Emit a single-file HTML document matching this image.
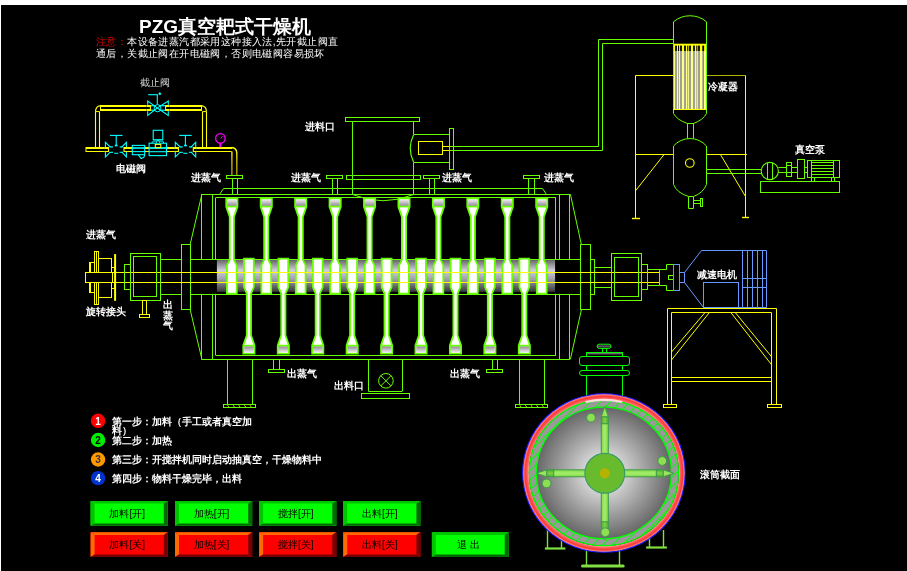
<!DOCTYPE html>
<html><head><meta charset="utf-8"><title>PZG</title>
<style>
html,body{margin:0;padding:0;background:#fff;width:907px;height:571px;overflow:hidden;}
#v{position:absolute;left:0;top:0;width:907px;height:571px;}
text{font-family:"Liberation Sans",sans-serif;}
</style></head>
<body>
<svg id="v" style="will-change:transform" width="907" height="571" viewBox="0 0 907 571">

<defs>
  <linearGradient id="shaft" x1="0" y1="0" x2="0" y2="1">
    <stop offset="0" stop-color="#666666"/>
    <stop offset="0.33" stop-color="#d2cedc"/>
    <stop offset="0.6" stop-color="#a29eae"/>
    <stop offset="1" stop-color="#383838"/>
  </linearGradient>
  <linearGradient id="pipeV" x1="0" y1="150" x2="0" y2="175" gradientUnits="userSpaceOnUse">
    <stop offset="0" stop-color="#ffff00"/>
    <stop offset="0.5" stop-color="#c8b400"/>
    <stop offset="1" stop-color="#a89400"/>
  </linearGradient>
  <linearGradient id="knob" x1="0" y1="0" x2="0" y2="1">
    <stop offset="0" stop-color="#000"/>
    <stop offset="0.5" stop-color="#6a5a70"/>
    <stop offset="1" stop-color="#000"/>
  </linearGradient>
  <linearGradient id="cap" x1="0" y1="0" x2="0" y2="1">
    <stop offset="0" stop-color="#a8a0b0"/>
    <stop offset="0.7" stop-color="#000"/>
    <stop offset="1" stop-color="#000"/>
  </linearGradient>
  <linearGradient id="headT" x1="0" y1="0" x2="0" y2="1">
    <stop offset="0" stop-color="#f2eef4"/>
    <stop offset="1" stop-color="#928a98"/>
  </linearGradient>
  <linearGradient id="headB" x1="0" y1="0" x2="0" y2="1">
    <stop offset="0" stop-color="#928a98"/>
    <stop offset="1" stop-color="#f2eef4"/>
  </linearGradient>
  <radialGradient id="disk" cx="603.9" cy="473.0" r="68" gradientUnits="userSpaceOnUse">
    <stop offset="0" stop-color="#ffffff"/>
    <stop offset="1" stop-color="#666666"/>
  </radialGradient>
  <radialGradient id="ring" cx="603.9" cy="473.0" r="81.2" gradientUnits="userSpaceOnUse">
    <stop offset="0" stop-color="#ffa8a8"/>
    <stop offset="0.922" stop-color="#ffa8a8"/>
    <stop offset="0.945" stop-color="#ff5a5a"/>
    <stop offset="0.97" stop-color="#ff3838"/>
    <stop offset="0.988" stop-color="#ff7a7a"/>
    <stop offset="1" stop-color="#ffb0b0"/>
  </radialGradient>
  <pattern id="hatch" x="0" y="0" width="7" height="7" patternUnits="userSpaceOnUse" patternTransform="rotate(45)">
    <rect x="0" y="0" width="1" height="7" fill="#00ff00"/>
  </pattern>
  <linearGradient id="ringHi" x1="0" y1="0" x2="0" y2="1">
    <stop offset="0" stop-color="#ffffff" stop-opacity="0.0"/>
    <stop offset="1" stop-color="#ffffff" stop-opacity="0"/>
  </linearGradient>
  <pattern id="tubes" x="673.5" y="0" width="3.7" height="10" patternUnits="userSpaceOnUse">
    <rect x="0" y="0" width="3.7" height="10" fill="#ffff99"/>
    <rect x="1.9" y="0" width="1.6" height="10" fill="#8c8c8c"/>
  </pattern>
  <linearGradient id="armG" x1="0" y1="0" x2="1" y2="0">
    <stop offset="0" stop-color="#7fd94a"/>
    <stop offset="0.5" stop-color="#a6ee6a"/>
    <stop offset="1" stop-color="#7fd94a"/>
  </linearGradient>
  <linearGradient id="armD" x1="0" y1="0" x2="1" y2="0">
    <stop offset="0" stop-color="#4fae2e"/>
    <stop offset="0.5" stop-color="#7fd04a"/>
    <stop offset="1" stop-color="#4fae2e"/>
  </linearGradient>
  <linearGradient id="armGh" x1="0" y1="0" x2="0" y2="1">
    <stop offset="0" stop-color="#7fd94a"/>
    <stop offset="0.5" stop-color="#a6ee6a"/>
    <stop offset="1" stop-color="#7fd94a"/>
  </linearGradient>
</defs>

<rect x="1" y="5" width="906" height="566" fill="#000"/>
<text x="139.00" y="32.60" font-size="19" fill="#fff" font-weight="bold" font-family="&quot;Liberation Sans&quot;, sans-serif" text-anchor="start" >PZG真空耙式干燥机</text>
<text x="96" y="45" letter-spacing="0.4" font-size="10" font-family="&quot;Liberation Serif&quot;, serif" fill="#ffffff"><tspan fill="#dd0000">注意：</tspan>本设备进蒸汽都采用这种接入法,先开截止阀直</text>
<text x="96" y="57" letter-spacing="0.4" font-size="10" font-family="&quot;Liberation Serif&quot;, serif" fill="#ffffff">通后，关截止阀在开电磁阀，否则电磁阀容易损坏</text>
<text x="140.00" y="86.00" font-size="10" fill="#d8d8d8" font-weight="normal" font-family="&quot;Liberation Serif&quot;, sans-serif" text-anchor="start" >截止阀</text>
<line x1="95.50" y1="111.50" x2="95.50" y2="148.00" stroke="#ffff00" stroke-width="1.1" />
<line x1="99.50" y1="111.50" x2="99.50" y2="148.00" stroke="#ffff00" stroke-width="1.1" />
<line x1="202.50" y1="111.50" x2="202.50" y2="148.00" stroke="#ffff00" stroke-width="1.1" />
<line x1="206.50" y1="111.50" x2="206.50" y2="148.00" stroke="#ffff00" stroke-width="1.1" />
<line x1="95.50" y1="111.60" x2="99.50" y2="111.60" stroke="#ffff00" stroke-width="1" />
<line x1="202.50" y1="111.60" x2="206.50" y2="111.60" stroke="#ffff00" stroke-width="1" />
<path d="M95.5,111.5 Q95.7,106.2 100.5,105.6" stroke="#ffff00" stroke-width="1.2" fill="none" />
<path d="M206.5,111.5 Q206.3,106.2 201.5,105.6" stroke="#ffff00" stroke-width="1.2" fill="none" />
<line x1="100.50" y1="106.00" x2="201.50" y2="106.00" stroke="#ffff00" stroke-width="2" />
<line x1="100.50" y1="110.00" x2="201.50" y2="110.00" stroke="#ffff00" stroke-width="2" />
<line x1="100.50" y1="105.00" x2="100.50" y2="111.00" stroke="#ffff00" stroke-width="1" />
<line x1="201.50" y1="105.00" x2="201.50" y2="111.00" stroke="#ffff00" stroke-width="1" />
<line x1="86.00" y1="148.00" x2="232.00" y2="148.00" stroke="#ffff00" stroke-width="2" />
<line x1="86.00" y1="151.50" x2="231.50" y2="151.50" stroke="#ffff00" stroke-width="1.1" />
<line x1="86.00" y1="147.00" x2="86.00" y2="152.00" stroke="#ffff00" stroke-width="1" />
<path d="M231.5,147.5 Q236.6,147.8 236.8,153" stroke="#ffff00" stroke-width="1.4" fill="none" />
<line x1="236.8" y1="153" x2="236.8" y2="175" stroke="url(#pipeV)" stroke-width="1.4"/>
<line x1="231.9" y1="151.5" x2="231.9" y2="175" stroke="url(#pipeV)" stroke-width="1.4"/>
<circle cx="220.40" cy="138.40" r="4.70" stroke="#ff00ff" stroke-width="1.3" fill="none" />
<line x1="220.40" y1="138.40" x2="222.80" y2="136.40" stroke="#ff00ff" stroke-width="1" />
<rect x="219.40" y="143.00" width="2.00" height="4.20" fill="#ff00ff"/>
<rect x="146.50" y="104.60" width="23.00" height="6.80" fill="#000"/>
<polygon points="147.70,101.00 147.70,115.40 157.30,107.90" stroke="#00ffff" stroke-width="1.1" fill="none" />
<polygon points="168.30,101.00 168.30,115.40 157.30,107.90" stroke="#00ffff" stroke-width="1.1" fill="none" />
<rect x="146.80" y="104.80" width="3.20" height="6.40" fill="#000"/>
<rect x="165.90" y="104.80" width="3.30" height="6.40" fill="#000"/>
<line x1="146.50" y1="106.00" x2="150.40" y2="106.00" stroke="#ffff00" stroke-width="2" />
<line x1="146.50" y1="110.00" x2="150.40" y2="110.00" stroke="#ffff00" stroke-width="2" />
<line x1="150.40" y1="105.00" x2="150.40" y2="111.00" stroke="#ffff00" stroke-width="1.1" />
<line x1="165.60" y1="106.00" x2="169.50" y2="106.00" stroke="#ffff00" stroke-width="2" />
<line x1="165.60" y1="110.00" x2="169.50" y2="110.00" stroke="#ffff00" stroke-width="2" />
<line x1="165.60" y1="105.00" x2="165.60" y2="111.00" stroke="#ffff00" stroke-width="1.1" />
<line x1="150.90" y1="105.70" x2="155.20" y2="105.70" stroke="#00ffff" stroke-width="1.2" />
<line x1="150.90" y1="110.20" x2="155.20" y2="110.20" stroke="#00ffff" stroke-width="1.2" />
<line x1="159.60" y1="105.70" x2="165.10" y2="105.70" stroke="#00ffff" stroke-width="1.2" />
<line x1="159.60" y1="110.20" x2="165.10" y2="110.20" stroke="#00ffff" stroke-width="1.2" />
<ellipse cx="157.5" cy="108.2" rx="3.4" ry="3.6" fill="none" stroke="#00ffff" stroke-width="1"/>
<line x1="157.30" y1="94.70" x2="157.30" y2="104.30" stroke="#00ffff" stroke-width="1.1" />
<line x1="148.20" y1="94.70" x2="157.80" y2="94.70" stroke="#00ffff" stroke-width="1.1" />
<circle cx="159.80" cy="93.70" r="1.00" stroke="#00ffff" stroke-width="0.8" fill="#00ffff" />
<rect x="104.90" y="146.60" width="22.00" height="6.00" fill="#000"/>
<polygon points="105.40,142.40 105.40,156.90 112.80,149.60" stroke="#00ffff" stroke-width="1.1" fill="none" />
<polygon points="126.40,142.40 126.40,156.90 119.30,149.60" stroke="#00ffff" stroke-width="1.1" fill="none" />
<rect x="104.60" y="147.40" width="9.00" height="4.60" fill="#000"/>
<rect x="118.40" y="147.40" width="8.80" height="4.60" fill="#000"/>
<line x1="104.40" y1="148.00" x2="108.50" y2="148.00" stroke="#ffff00" stroke-width="2" />
<line x1="104.40" y1="151.50" x2="108.50" y2="151.50" stroke="#ffff00" stroke-width="1.1" />
<line x1="108.50" y1="147.00" x2="108.50" y2="152.00" stroke="#ffff00" stroke-width="1.1" />
<line x1="124.00" y1="148.00" x2="127.40" y2="148.00" stroke="#ffff00" stroke-width="2" />
<line x1="124.00" y1="151.50" x2="127.40" y2="151.50" stroke="#ffff00" stroke-width="1.1" />
<line x1="124.00" y1="147.00" x2="124.00" y2="152.00" stroke="#ffff00" stroke-width="1.1" />
<line x1="109.60" y1="146.90" x2="113.00" y2="146.90" stroke="#00ffff" stroke-width="1.1" />
<line x1="109.60" y1="152.30" x2="113.00" y2="152.30" stroke="#00ffff" stroke-width="1.1" />
<line x1="119.60" y1="146.90" x2="123.00" y2="146.90" stroke="#00ffff" stroke-width="1.1" />
<line x1="119.60" y1="152.30" x2="123.00" y2="152.30" stroke="#00ffff" stroke-width="1.1" />
<line x1="116.20" y1="135.40" x2="116.20" y2="145.50" stroke="#00ffff" stroke-width="1.1" />
<line x1="110.00" y1="135.40" x2="122.50" y2="135.40" stroke="#00ffff" stroke-width="1.1" />
<ellipse cx="116.2" cy="145.6" rx="1.6" ry="1.0" fill="#00ffff"/>
<line x1="114.20" y1="153.30" x2="118.20" y2="153.30" stroke="#00ffff" stroke-width="1.1" />
<rect x="174.80" y="146.60" width="21.40" height="6.00" fill="#000"/>
<polygon points="175.30,142.40 175.30,156.90 182.70,149.60" stroke="#00ffff" stroke-width="1.1" fill="none" />
<polygon points="195.70,142.40 195.70,156.90 188.60,149.60" stroke="#00ffff" stroke-width="1.1" fill="none" />
<rect x="174.50" y="147.40" width="9.00" height="4.60" fill="#000"/>
<rect x="187.70" y="147.40" width="8.80" height="4.60" fill="#000"/>
<line x1="174.30" y1="148.00" x2="178.40" y2="148.00" stroke="#ffff00" stroke-width="2" />
<line x1="174.30" y1="151.50" x2="178.40" y2="151.50" stroke="#ffff00" stroke-width="1.1" />
<line x1="178.40" y1="147.00" x2="178.40" y2="152.00" stroke="#ffff00" stroke-width="1.1" />
<line x1="193.30" y1="148.00" x2="196.70" y2="148.00" stroke="#ffff00" stroke-width="2" />
<line x1="193.30" y1="151.50" x2="196.70" y2="151.50" stroke="#ffff00" stroke-width="1.1" />
<line x1="193.30" y1="147.00" x2="193.30" y2="152.00" stroke="#ffff00" stroke-width="1.1" />
<line x1="179.50" y1="146.90" x2="182.90" y2="146.90" stroke="#00ffff" stroke-width="1.1" />
<line x1="179.50" y1="152.30" x2="182.90" y2="152.30" stroke="#00ffff" stroke-width="1.1" />
<line x1="188.90" y1="146.90" x2="192.30" y2="146.90" stroke="#00ffff" stroke-width="1.1" />
<line x1="188.90" y1="152.30" x2="192.30" y2="152.30" stroke="#00ffff" stroke-width="1.1" />
<line x1="185.40" y1="135.40" x2="185.40" y2="145.50" stroke="#00ffff" stroke-width="1.1" />
<line x1="179.20" y1="135.40" x2="191.70" y2="135.40" stroke="#00ffff" stroke-width="1.1" />
<ellipse cx="185.4" cy="145.6" rx="1.6" ry="1.0" fill="#00ffff"/>
<line x1="183.40" y1="153.30" x2="187.40" y2="153.30" stroke="#00ffff" stroke-width="1.1" />
<rect x="132.30" y="145.40" width="12.40" height="9.30" stroke="#00ffff" stroke-width="1.1" fill="#000" />
<line x1="132.30" y1="148.00" x2="144.70" y2="148.00" stroke="#00ffff" stroke-width="1.6" />
<line x1="132.30" y1="151.60" x2="144.70" y2="151.60" stroke="#00ffff" stroke-width="1.1" />
<path d="M138.3,154.8 L141.2,158.6 L144,157.2 L144.6,154.8" stroke="#00ffff" stroke-width="1.1" fill="none" />
<rect x="149.10" y="143.20" width="17.40" height="12.40" stroke="#00ffff" stroke-width="1.1" fill="#000" />
<line x1="149.10" y1="148.00" x2="166.50" y2="148.00" stroke="#00ffff" stroke-width="1.8" />
<line x1="149.10" y1="151.70" x2="166.50" y2="151.70" stroke="#00ffff" stroke-width="1.1" />
<rect x="153.20" y="130.30" width="9.60" height="9.40" stroke="#00ffff" stroke-width="1.1" fill="none" />
<path d="M151.6,143.2 L153.4,141 L162.6,141 L163.9,143.2" stroke="#00ffff" stroke-width="1" fill="none" />
<rect x="155.30" y="144.40" width="5.50" height="3.20" stroke="#ffff00" stroke-width="1.1" fill="none" />
<ellipse cx="158" cy="142.2" rx="1.4" ry="1.8" fill="#000" stroke="#00ffff" stroke-width="1"/>
<text x="116.00" y="172.00" font-size="10" fill="#fff" font-weight="bold" font-family="&quot;Liberation Sans&quot;, sans-serif" text-anchor="start" >电磁阀</text>
<rect x="226.50" y="175.50" width="16.00" height="3.00" stroke="#66ff00" stroke-width="1" fill="none" />
<line x1="232.50" y1="178.00" x2="232.50" y2="194.20" stroke="#66ff00" stroke-width="1" />
<line x1="237.50" y1="178.00" x2="237.50" y2="194.20" stroke="#66ff00" stroke-width="1" />
<text x="191.20" y="180.60" font-size="10" fill="#fff" font-weight="bold" font-family="&quot;Liberation Sans&quot;, sans-serif" text-anchor="start" >进蒸气</text>
<rect x="326.50" y="175.50" width="16.00" height="3.00" stroke="#66ff00" stroke-width="1" fill="none" />
<line x1="332.50" y1="178.00" x2="332.50" y2="194.20" stroke="#66ff00" stroke-width="1" />
<line x1="337.50" y1="178.00" x2="337.50" y2="194.20" stroke="#66ff00" stroke-width="1" />
<text x="291.30" y="180.60" font-size="10" fill="#fff" font-weight="bold" font-family="&quot;Liberation Sans&quot;, sans-serif" text-anchor="start" >进蒸气</text>
<rect x="423.50" y="175.50" width="16.00" height="3.00" stroke="#66ff00" stroke-width="1" fill="none" />
<line x1="429.50" y1="178.00" x2="429.50" y2="194.20" stroke="#66ff00" stroke-width="1" />
<line x1="434.50" y1="178.00" x2="434.50" y2="194.20" stroke="#66ff00" stroke-width="1" />
<text x="442.40" y="180.60" font-size="10" fill="#fff" font-weight="bold" font-family="&quot;Liberation Sans&quot;, sans-serif" text-anchor="start" >进蒸气</text>
<rect x="523.50" y="175.50" width="16.00" height="3.00" stroke="#66ff00" stroke-width="1" fill="none" />
<line x1="528.50" y1="178.00" x2="528.50" y2="194.20" stroke="#66ff00" stroke-width="1" />
<line x1="534.50" y1="178.00" x2="534.50" y2="194.20" stroke="#66ff00" stroke-width="1" />
<text x="544.20" y="180.60" font-size="10" fill="#fff" font-weight="bold" font-family="&quot;Liberation Sans&quot;, sans-serif" text-anchor="start" >进蒸气</text>
<path d="M219.5,194.5 L223.5,188.5 L542.5,188.5 L546.5,194.5" stroke="#66ff00" stroke-width="1" fill="none" />
<line x1="201.40" y1="194.50" x2="569.90" y2="194.50" stroke="#66ff00" stroke-width="1" />
<line x1="201.40" y1="359.50" x2="569.90" y2="359.50" stroke="#66ff00" stroke-width="1" />
<line x1="190.10" y1="244.60" x2="201.90" y2="194.20" stroke="#66ff00" stroke-width="1" />
<line x1="190.10" y1="309.40" x2="201.90" y2="359.30" stroke="#66ff00" stroke-width="1" />
<line x1="570.40" y1="194.20" x2="581.40" y2="244.70" stroke="#66ff00" stroke-width="1" />
<line x1="570.40" y1="359.30" x2="581.40" y2="309.60" stroke="#66ff00" stroke-width="1" />
<rect x="181.50" y="244.50" width="9.00" height="65.00" stroke="#66ff00" stroke-width="1" fill="none" />
<rect x="580.50" y="244.50" width="10.00" height="65.00" stroke="#66ff00" stroke-width="1" fill="none" />
<line x1="201.50" y1="194.20" x2="201.50" y2="259.40" stroke="#66ff00" stroke-width="1" />
<line x1="201.50" y1="293.80" x2="201.50" y2="359.30" stroke="#66ff00" stroke-width="1" />
<line x1="212.50" y1="194.20" x2="212.50" y2="259.40" stroke="#66ff00" stroke-width="1" />
<line x1="212.50" y1="293.80" x2="212.50" y2="359.30" stroke="#66ff00" stroke-width="1" />
<line x1="559.50" y1="194.20" x2="559.50" y2="259.40" stroke="#66ff00" stroke-width="1" />
<line x1="559.50" y1="293.80" x2="559.50" y2="359.30" stroke="#66ff00" stroke-width="1" />
<line x1="569.50" y1="194.20" x2="569.50" y2="259.40" stroke="#66ff00" stroke-width="1" />
<line x1="569.50" y1="293.80" x2="569.50" y2="359.30" stroke="#66ff00" stroke-width="1" />
<line x1="215.70" y1="197.50" x2="555.90" y2="197.50" stroke="#66ff00" stroke-width="1" />
<line x1="215.70" y1="355.50" x2="555.90" y2="355.50" stroke="#66ff00" stroke-width="1" />
<line x1="215.50" y1="197.70" x2="215.50" y2="259.40" stroke="#66ff00" stroke-width="1" />
<line x1="215.50" y1="293.80" x2="215.50" y2="355.20" stroke="#66ff00" stroke-width="1" />
<line x1="555.50" y1="197.70" x2="555.50" y2="259.40" stroke="#66ff00" stroke-width="1" />
<line x1="555.50" y1="293.80" x2="555.50" y2="355.20" stroke="#66ff00" stroke-width="1" />
<line x1="160.20" y1="259.50" x2="181.30" y2="259.50" stroke="#66ff00" stroke-width="1" />
<line x1="160.20" y1="294.50" x2="181.30" y2="294.50" stroke="#66ff00" stroke-width="1" />
<line x1="190.10" y1="259.50" x2="580.90" y2="259.50" stroke="#66ff00" stroke-width="1" />
<line x1="190.10" y1="294.50" x2="580.90" y2="294.50" stroke="#66ff00" stroke-width="1" />
<rect x="590.50" y="259.50" width="4.00" height="35.00" stroke="#66ff00" stroke-width="1" fill="none" />
<line x1="594.50" y1="267.50" x2="611.60" y2="267.50" stroke="#66ff00" stroke-width="1" />
<line x1="594.50" y1="287.50" x2="611.60" y2="287.50" stroke="#66ff00" stroke-width="1" />
<rect x="345.50" y="117.50" width="74.00" height="4.00" stroke="#66ff00" stroke-width="1" fill="none" />
<line x1="352.50" y1="121.60" x2="352.50" y2="194.50" stroke="#66ff00" stroke-width="1" />
<line x1="413.50" y1="121.60" x2="413.50" y2="134.40" stroke="#66ff00" stroke-width="1" />
<line x1="413.50" y1="162.60" x2="413.50" y2="194.50" stroke="#66ff00" stroke-width="1" />
<rect x="346.50" y="175.50" width="74.00" height="4.00" stroke="#66ff00" stroke-width="1" fill="none" />
<path d="M352.5,194.5 Q383,207 413.5,194.5" stroke="#66ff00" stroke-width="1" fill="none" />
<line x1="413.60" y1="134.50" x2="449.20" y2="134.50" stroke="#66ff00" stroke-width="1" />
<line x1="413.60" y1="162.50" x2="449.20" y2="162.50" stroke="#66ff00" stroke-width="1" />
<path d="M413.6,134.8 Q406.8,148.5 413.6,162.2" stroke="#66ff00" stroke-width="1.2" fill="none" />
<rect x="449.50" y="128.50" width="4.00" height="41.00" stroke="#66ff00" stroke-width="1" fill="none" />
<rect x="418.50" y="141.50" width="24.00" height="13.00" stroke="#ffff00" stroke-width="1" fill="none" />
<line x1="442.40" y1="146.50" x2="449.20" y2="146.50" stroke="#ffff00" stroke-width="1" />
<line x1="442.40" y1="150.50" x2="449.20" y2="150.50" stroke="#ffff00" stroke-width="1" />
<path d="M449.5,146.5 L598.5,146.5 L598.5,39.5 L673.5,39.5" stroke="#66ff00" stroke-width="1" fill="none" />
<path d="M449.5,150.5 L602.5,150.5 L602.5,43.5 L673.5,43.5" stroke="#66ff00" stroke-width="1" fill="none" />
<text x="305.30" y="129.70" font-size="10" fill="#fff" font-weight="bold" font-family="&quot;Liberation Sans&quot;, sans-serif" text-anchor="start" >进料口</text>
<rect x="216.90" y="260.00" width="338.20" height="31.80" fill="url(#shaft)"/>
<path d="M226.25,198.6 L237.45,198.6 L237.45,206.8 L233.95,217 L233.95,259.6 L236.75,265.4 L236.75,293.6 L226.95,293.6 L226.95,265.4 L229.75,259.6 L229.75,217 L226.25,206.8 Z" stroke="#66ff00" stroke-width="1.8" fill="#ffffff" />
<rect x="227.15" y="199.50" width="9.40" height="6.40" fill="url(#headT)"/>
<line x1="226.25" y1="206.60" x2="237.45" y2="206.60" stroke="#66ff00" stroke-width="1.6" />
<path d="M260.67999999999995,198.6 L271.88,198.6 L271.88,206.8 L268.38,217 L268.38,259.6 L271.17999999999995,265.4 L271.17999999999995,293.6 L261.38,293.6 L261.38,265.4 L264.17999999999995,259.6 L264.17999999999995,217 L260.67999999999995,206.8 Z" stroke="#66ff00" stroke-width="1.8" fill="#ffffff" />
<rect x="261.58" y="199.50" width="9.40" height="6.40" fill="url(#headT)"/>
<line x1="260.68" y1="206.60" x2="271.88" y2="206.60" stroke="#66ff00" stroke-width="1.6" />
<path d="M295.10999999999996,198.6 L306.31,198.6 L306.31,206.8 L302.81,217 L302.81,259.6 L305.60999999999996,265.4 L305.60999999999996,293.6 L295.81,293.6 L295.81,265.4 L298.60999999999996,259.6 L298.60999999999996,217 L295.10999999999996,206.8 Z" stroke="#66ff00" stroke-width="1.8" fill="#ffffff" />
<rect x="296.01" y="199.50" width="9.40" height="6.40" fill="url(#headT)"/>
<line x1="295.11" y1="206.60" x2="306.31" y2="206.60" stroke="#66ff00" stroke-width="1.6" />
<path d="M329.53999999999996,198.6 L340.74,198.6 L340.74,206.8 L337.24,217 L337.24,259.6 L340.03999999999996,265.4 L340.03999999999996,293.6 L330.24,293.6 L330.24,265.4 L333.03999999999996,259.6 L333.03999999999996,217 L329.53999999999996,206.8 Z" stroke="#66ff00" stroke-width="1.8" fill="#ffffff" />
<rect x="330.44" y="199.50" width="9.40" height="6.40" fill="url(#headT)"/>
<line x1="329.54" y1="206.60" x2="340.74" y2="206.60" stroke="#66ff00" stroke-width="1.6" />
<path d="M363.96999999999997,198.6 L375.17,198.6 L375.17,206.8 L371.67,217 L371.67,259.6 L374.46999999999997,265.4 L374.46999999999997,293.6 L364.67,293.6 L364.67,265.4 L367.46999999999997,259.6 L367.46999999999997,217 L363.96999999999997,206.8 Z" stroke="#66ff00" stroke-width="1.8" fill="#ffffff" />
<rect x="364.87" y="199.50" width="9.40" height="6.40" fill="url(#headT)"/>
<line x1="363.97" y1="206.60" x2="375.17" y2="206.60" stroke="#66ff00" stroke-width="1.6" />
<path d="M398.4,198.6 L409.6,198.6 L409.6,206.8 L406.1,217 L406.1,259.6 L408.9,265.4 L408.9,293.6 L399.1,293.6 L399.1,265.4 L401.9,259.6 L401.9,217 L398.4,206.8 Z" stroke="#66ff00" stroke-width="1.8" fill="#ffffff" />
<rect x="399.30" y="199.50" width="9.40" height="6.40" fill="url(#headT)"/>
<line x1="398.40" y1="206.60" x2="409.60" y2="206.60" stroke="#66ff00" stroke-width="1.6" />
<path d="M432.8299999999999,198.6 L444.03,198.6 L444.03,206.8 L440.53,217 L440.53,259.6 L443.3299999999999,265.4 L443.3299999999999,293.6 L433.53,293.6 L433.53,265.4 L436.3299999999999,259.6 L436.3299999999999,217 L432.8299999999999,206.8 Z" stroke="#66ff00" stroke-width="1.8" fill="#ffffff" />
<rect x="433.73" y="199.50" width="9.40" height="6.40" fill="url(#headT)"/>
<line x1="432.83" y1="206.60" x2="444.03" y2="206.60" stroke="#66ff00" stroke-width="1.6" />
<path d="M467.26,198.6 L478.46000000000004,198.6 L478.46000000000004,206.8 L474.96000000000004,217 L474.96000000000004,259.6 L477.76,265.4 L477.76,293.6 L467.96000000000004,293.6 L467.96000000000004,265.4 L470.76,259.6 L470.76,217 L467.26,206.8 Z" stroke="#66ff00" stroke-width="1.8" fill="#ffffff" />
<rect x="468.16" y="199.50" width="9.40" height="6.40" fill="url(#headT)"/>
<line x1="467.26" y1="206.60" x2="478.46" y2="206.60" stroke="#66ff00" stroke-width="1.6" />
<path d="M501.68999999999994,198.6 L512.89,198.6 L512.89,206.8 L509.39,217 L509.39,259.6 L512.1899999999999,265.4 L512.1899999999999,293.6 L502.39,293.6 L502.39,265.4 L505.18999999999994,259.6 L505.18999999999994,217 L501.68999999999994,206.8 Z" stroke="#66ff00" stroke-width="1.8" fill="#ffffff" />
<rect x="502.59" y="199.50" width="9.40" height="6.40" fill="url(#headT)"/>
<line x1="501.69" y1="206.60" x2="512.89" y2="206.60" stroke="#66ff00" stroke-width="1.6" />
<path d="M536.12,198.6 L547.32,198.6 L547.32,206.8 L543.82,217 L543.82,259.6 L546.62,265.4 L546.62,293.6 L536.82,293.6 L536.82,265.4 L539.62,259.6 L539.62,217 L536.12,206.8 Z" stroke="#66ff00" stroke-width="1.8" fill="#ffffff" />
<rect x="537.02" y="199.50" width="9.40" height="6.40" fill="url(#headT)"/>
<line x1="536.12" y1="206.60" x2="547.32" y2="206.60" stroke="#66ff00" stroke-width="1.6" />
<path d="M243.3,353.6 L254.5,353.6 L254.5,345.4 L251.0,335.2 L251.0,293.6 L253.8,287 L253.8,258.6 L244.0,258.6 L244.0,287 L246.8,293.6 L246.8,335.2 L243.3,345.4 Z" stroke="#66ff00" stroke-width="1.8" fill="#ffffff" />
<rect x="244.20" y="346.30" width="9.40" height="6.40" fill="url(#headB)"/>
<line x1="243.30" y1="345.60" x2="254.50" y2="345.60" stroke="#66ff00" stroke-width="1.6" />
<path d="M277.72999999999996,353.6 L288.93,353.6 L288.93,345.4 L285.43,335.2 L285.43,293.6 L288.22999999999996,287 L288.22999999999996,258.6 L278.43,258.6 L278.43,287 L281.22999999999996,293.6 L281.22999999999996,335.2 L277.72999999999996,345.4 Z" stroke="#66ff00" stroke-width="1.8" fill="#ffffff" />
<rect x="278.63" y="346.30" width="9.40" height="6.40" fill="url(#headB)"/>
<line x1="277.73" y1="345.60" x2="288.93" y2="345.60" stroke="#66ff00" stroke-width="1.6" />
<path d="M312.15999999999997,353.6 L323.36,353.6 L323.36,345.4 L319.86,335.2 L319.86,293.6 L322.65999999999997,287 L322.65999999999997,258.6 L312.86,258.6 L312.86,287 L315.65999999999997,293.6 L315.65999999999997,335.2 L312.15999999999997,345.4 Z" stroke="#66ff00" stroke-width="1.8" fill="#ffffff" />
<rect x="313.06" y="346.30" width="9.40" height="6.40" fill="url(#headB)"/>
<line x1="312.16" y1="345.60" x2="323.36" y2="345.60" stroke="#66ff00" stroke-width="1.6" />
<path d="M346.59,353.6 L357.79,353.6 L357.79,345.4 L354.29,335.2 L354.29,293.6 L357.09,287 L357.09,258.6 L347.29,258.6 L347.29,287 L350.09,293.6 L350.09,335.2 L346.59,345.4 Z" stroke="#66ff00" stroke-width="1.8" fill="#ffffff" />
<rect x="347.49" y="346.30" width="9.40" height="6.40" fill="url(#headB)"/>
<line x1="346.59" y1="345.60" x2="357.79" y2="345.60" stroke="#66ff00" stroke-width="1.6" />
<path d="M381.02,353.6 L392.22,353.6 L392.22,345.4 L388.72,335.2 L388.72,293.6 L391.52,287 L391.52,258.6 L381.72,258.6 L381.72,287 L384.52,293.6 L384.52,335.2 L381.02,345.4 Z" stroke="#66ff00" stroke-width="1.8" fill="#ffffff" />
<rect x="381.92" y="346.30" width="9.40" height="6.40" fill="url(#headB)"/>
<line x1="381.02" y1="345.60" x2="392.22" y2="345.60" stroke="#66ff00" stroke-width="1.6" />
<path d="M415.45,353.6 L426.65000000000003,353.6 L426.65000000000003,345.4 L423.15000000000003,335.2 L423.15000000000003,293.6 L425.95,287 L425.95,258.6 L416.15000000000003,258.6 L416.15000000000003,287 L418.95,293.6 L418.95,335.2 L415.45,345.4 Z" stroke="#66ff00" stroke-width="1.8" fill="#ffffff" />
<rect x="416.35" y="346.30" width="9.40" height="6.40" fill="url(#headB)"/>
<line x1="415.45" y1="345.60" x2="426.65" y2="345.60" stroke="#66ff00" stroke-width="1.6" />
<path d="M449.88,353.6 L461.08000000000004,353.6 L461.08000000000004,345.4 L457.58000000000004,335.2 L457.58000000000004,293.6 L460.38,287 L460.38,258.6 L450.58000000000004,258.6 L450.58000000000004,287 L453.38,293.6 L453.38,335.2 L449.88,345.4 Z" stroke="#66ff00" stroke-width="1.8" fill="#ffffff" />
<rect x="450.78" y="346.30" width="9.40" height="6.40" fill="url(#headB)"/>
<line x1="449.88" y1="345.60" x2="461.08" y2="345.60" stroke="#66ff00" stroke-width="1.6" />
<path d="M484.30999999999995,353.6 L495.51,353.6 L495.51,345.4 L492.01,335.2 L492.01,293.6 L494.80999999999995,287 L494.80999999999995,258.6 L485.01,258.6 L485.01,287 L487.80999999999995,293.6 L487.80999999999995,335.2 L484.30999999999995,345.4 Z" stroke="#66ff00" stroke-width="1.8" fill="#ffffff" />
<rect x="485.21" y="346.30" width="9.40" height="6.40" fill="url(#headB)"/>
<line x1="484.31" y1="345.60" x2="495.51" y2="345.60" stroke="#66ff00" stroke-width="1.6" />
<path d="M518.74,353.6 L529.94,353.6 L529.94,345.4 L526.44,335.2 L526.44,293.6 L529.24,287 L529.24,258.6 L519.44,258.6 L519.44,287 L522.24,293.6 L522.24,335.2 L518.74,345.4 Z" stroke="#66ff00" stroke-width="1.8" fill="#ffffff" />
<rect x="519.64" y="346.30" width="9.40" height="6.40" fill="url(#headB)"/>
<line x1="518.74" y1="345.60" x2="529.94" y2="345.60" stroke="#66ff00" stroke-width="1.6" />
<line x1="112.50" y1="272.50" x2="659.50" y2="272.50" stroke="#ffff00" stroke-width="1" />
<line x1="112.50" y1="282.50" x2="659.50" y2="282.50" stroke="#ffff00" stroke-width="1" />
<rect x="130.50" y="253.50" width="30.00" height="47.00" stroke="#66ff00" stroke-width="1" fill="none" />
<rect x="133.50" y="256.50" width="23.00" height="40.00" stroke="#66ff00" stroke-width="1" fill="none" />
<rect x="124.50" y="264.50" width="6.00" height="25.00" stroke="#66ff00" stroke-width="1" fill="none" />
<rect x="142.50" y="300.50" width="4.00" height="14.00" stroke="#ffff00" stroke-width="1" fill="none" />
<rect x="139.50" y="314.50" width="10.00" height="3.00" stroke="#ffff00" stroke-width="1" fill="none" />
<rect x="94.50" y="251.50" width="4.00" height="53.00" stroke="#ffff00" stroke-width="1" fill="none" />
<line x1="96.50" y1="251.30" x2="96.50" y2="304.20" stroke="#ffff00" stroke-width="1" />
<rect x="89.50" y="262.50" width="5.00" height="30.00" stroke="#ffff00" stroke-width="1" fill="none" />
<rect x="98.50" y="258.50" width="13.00" height="39.00" stroke="#ffff00" stroke-width="1" fill="none" />
<line x1="90.50" y1="262.30" x2="90.50" y2="292.30" stroke="#ffff00" stroke-width="1" />
<rect x="85.50" y="272.50" width="27.00" height="10.00" stroke="#ffff00" stroke-width="1" fill="#000" />
<rect x="111.50" y="267.50" width="3.00" height="5.00" stroke="#ffff00" stroke-width="1" fill="none" />
<rect x="111.50" y="282.50" width="3.00" height="6.00" stroke="#ffff00" stroke-width="1" fill="none" />
<rect x="114.10" y="254.10" width="2.00" height="46.70" fill="#ffff00"/>
<text x="86.00" y="237.50" font-size="10" fill="#fff" font-weight="bold" font-family="&quot;Liberation Sans&quot;, sans-serif" text-anchor="start" >进蒸气</text>
<text x="86.00" y="315.30" font-size="10" fill="#fff" font-weight="bold" font-family="&quot;Liberation Sans&quot;, sans-serif" text-anchor="start" >旋转接头</text>
<text x="162.80" y="308.30" font-size="10" fill="#fff" font-weight="bold" font-family="&quot;Liberation Sans&quot;, sans-serif" text-anchor="start" >出</text>
<text x="162.80" y="318.50" font-size="10" fill="#fff" font-weight="bold" font-family="&quot;Liberation Sans&quot;, sans-serif" text-anchor="start" >蒸</text>
<text x="162.80" y="328.70" font-size="10" fill="#fff" font-weight="bold" font-family="&quot;Liberation Sans&quot;, sans-serif" text-anchor="start" >气</text>
<rect x="611.50" y="253.50" width="30.00" height="47.00" stroke="#66ff00" stroke-width="1" fill="none" />
<rect x="614.50" y="257.50" width="24.00" height="39.00" stroke="#66ff00" stroke-width="1" fill="none" />
<rect x="641.50" y="264.50" width="6.00" height="25.00" stroke="#66ff00" stroke-width="1" fill="none" />
<line x1="647.40" y1="269.50" x2="659.50" y2="269.50" stroke="#66ff00" stroke-width="1" />
<line x1="647.40" y1="285.50" x2="659.50" y2="285.50" stroke="#66ff00" stroke-width="1" />
<path d="M659.5,269.5 L666.5,269.5 L666.5,264.5 L673.5,264.5 L673.5,290.5 L666.5,290.5 L666.5,285.5 L659.5,285.5 Z" stroke="#66ff00" stroke-width="1" fill="none" />
<rect x="668.50" y="275.50" width="5.00" height="4.00" stroke="#66ff00" stroke-width="1" fill="none" />
<rect x="673.50" y="264.50" width="6.00" height="26.00" stroke="#6699ff" stroke-width="1" fill="none" />
<path d="M679.5,272.5 L684.5,272.5 L684.5,282.5 L679.5,282.5" stroke="#6699ff" stroke-width="1" fill="none" />
<path d="M684.5,272.5 L701.5,250.5 L766.5,250.5 L766.5,307.5 L703.5,307.5 L684.5,282.5" stroke="#6699ff" stroke-width="1" fill="none" />
<line x1="742.50" y1="250.50" x2="742.50" y2="307.20" stroke="#6699ff" stroke-width="1" />
<line x1="747.50" y1="250.50" x2="747.50" y2="307.20" stroke="#6699ff" stroke-width="1" />
<line x1="752.50" y1="250.50" x2="752.50" y2="307.20" stroke="#6699ff" stroke-width="1" />
<line x1="757.50" y1="250.50" x2="757.50" y2="307.20" stroke="#6699ff" stroke-width="1" />
<line x1="762.50" y1="250.50" x2="762.50" y2="307.20" stroke="#6699ff" stroke-width="1" />
<line x1="742.20" y1="278.50" x2="766.70" y2="278.50" stroke="#6699ff" stroke-width="1" />
<line x1="742.20" y1="287.50" x2="766.70" y2="287.50" stroke="#6699ff" stroke-width="1" />
<rect x="703.50" y="282.50" width="35.00" height="25.00" stroke="#6699ff" stroke-width="1" fill="none" />
<text x="697.20" y="278.30" font-size="10" fill="#fff" font-weight="bold" font-family="&quot;Liberation Sans&quot;, sans-serif" text-anchor="start" >减速电机</text>
<path d="M667.5,404.5 L667.5,308.5 L776.5,308.5 L776.5,404.5" stroke="#ffff00" stroke-width="1" fill="none" />
<path d="M671.5,404.5 L671.5,312.5 L771.5,312.5 L771.5,404.5" stroke="#ffff00" stroke-width="1" fill="none" />
<rect x="663.50" y="404.50" width="13.00" height="3.00" stroke="#ffff00" stroke-width="1" fill="none" />
<rect x="767.50" y="404.50" width="14.00" height="3.00" stroke="#ffff00" stroke-width="1" fill="none" />
<line x1="671.50" y1="377.50" x2="771.90" y2="377.50" stroke="#ffff00" stroke-width="1" />
<line x1="671.50" y1="381.50" x2="771.90" y2="381.50" stroke="#ffff00" stroke-width="1" />
<line x1="705.00" y1="312.50" x2="671.50" y2="352.00" stroke="#ffff00" stroke-width="1" />
<line x1="709.40" y1="312.50" x2="671.50" y2="360.00" stroke="#ffff00" stroke-width="1" />
<line x1="731.00" y1="312.70" x2="771.90" y2="365.20" stroke="#ffff00" stroke-width="1" />
<line x1="735.40" y1="312.70" x2="771.90" y2="357.20" stroke="#ffff00" stroke-width="1" />
<line x1="227.50" y1="359.30" x2="227.50" y2="404.60" stroke="#66ff00" stroke-width="1" />
<line x1="252.50" y1="359.30" x2="252.50" y2="404.60" stroke="#66ff00" stroke-width="1" />
<rect x="223.50" y="404.50" width="32.00" height="3.00" stroke="#66ff00" stroke-width="1" fill="none" />
<line x1="227.60" y1="405.20" x2="228.80" y2="407.00" stroke="#cccc00" stroke-width="1" />
<line x1="233.20" y1="405.20" x2="234.40" y2="407.00" stroke="#cccc00" stroke-width="1" />
<line x1="238.80" y1="405.20" x2="240.00" y2="407.00" stroke="#cccc00" stroke-width="1" />
<line x1="244.40" y1="405.20" x2="245.60" y2="407.00" stroke="#cccc00" stroke-width="1" />
<line x1="250.00" y1="405.20" x2="251.20" y2="407.00" stroke="#cccc00" stroke-width="1" />
<line x1="519.50" y1="359.30" x2="519.50" y2="404.60" stroke="#66ff00" stroke-width="1" />
<line x1="544.50" y1="359.30" x2="544.50" y2="404.60" stroke="#66ff00" stroke-width="1" />
<rect x="515.50" y="404.50" width="32.00" height="3.00" stroke="#66ff00" stroke-width="1" fill="none" />
<line x1="519.80" y1="405.20" x2="521.00" y2="407.00" stroke="#cccc00" stroke-width="1" />
<line x1="525.40" y1="405.20" x2="526.60" y2="407.00" stroke="#cccc00" stroke-width="1" />
<line x1="531.00" y1="405.20" x2="532.20" y2="407.00" stroke="#cccc00" stroke-width="1" />
<line x1="536.60" y1="405.20" x2="537.80" y2="407.00" stroke="#cccc00" stroke-width="1" />
<line x1="542.20" y1="405.20" x2="543.40" y2="407.00" stroke="#cccc00" stroke-width="1" />
<line x1="273.50" y1="359.30" x2="273.50" y2="369.40" stroke="#66ff00" stroke-width="1" />
<line x1="279.50" y1="359.30" x2="279.50" y2="369.40" stroke="#66ff00" stroke-width="1" />
<rect x="268.50" y="369.50" width="16.00" height="3.00" stroke="#66ff00" stroke-width="1" fill="none" />
<text x="287.20" y="376.80" font-size="10" fill="#fff" font-weight="bold" font-family="&quot;Liberation Sans&quot;, sans-serif" text-anchor="start" >出蒸气</text>
<line x1="492.50" y1="359.30" x2="492.50" y2="369.40" stroke="#66ff00" stroke-width="1" />
<line x1="497.50" y1="359.30" x2="497.50" y2="369.40" stroke="#66ff00" stroke-width="1" />
<rect x="486.50" y="369.50" width="16.00" height="3.00" stroke="#66ff00" stroke-width="1" fill="none" />
<text x="449.60" y="376.80" font-size="10" fill="#fff" font-weight="bold" font-family="&quot;Liberation Sans&quot;, sans-serif" text-anchor="start" >出蒸气</text>
<line x1="368.50" y1="359.30" x2="368.50" y2="391.20" stroke="#66ff00" stroke-width="1" />
<line x1="402.50" y1="359.30" x2="402.50" y2="391.20" stroke="#66ff00" stroke-width="1" />
<line x1="368.40" y1="391.50" x2="402.30" y2="391.50" stroke="#66ff00" stroke-width="1" />
<rect x="361.50" y="393.50" width="48.00" height="5.00" stroke="#66ff00" stroke-width="1" fill="none" />
<circle cx="385.90" cy="380.80" r="7.30" stroke="#66ff00" stroke-width="1" fill="none" />
<line x1="380.70" y1="375.60" x2="391.10" y2="386.00" stroke="#66ff00" stroke-width="1" />
<line x1="391.10" y1="375.60" x2="380.70" y2="386.00" stroke="#66ff00" stroke-width="1" />
<text x="333.50" y="389.30" font-size="10" fill="#fff" font-weight="bold" font-family="&quot;Liberation Sans&quot;, sans-serif" text-anchor="start" >出料口</text>
<rect x="673.30" y="43.70" width="33.40" height="7.30" fill="#ffff00"/>
<rect x="675.10" y="45.60" width="1.80" height="5.40" fill="#000"/>
<rect x="680.10" y="45.60" width="1.80" height="5.40" fill="#000"/>
<rect x="684.10" y="45.60" width="1.80" height="5.40" fill="#000"/>
<rect x="689.10" y="45.60" width="1.80" height="5.40" fill="#000"/>
<rect x="693.10" y="45.60" width="1.80" height="5.40" fill="#000"/>
<rect x="698.10" y="45.60" width="1.80" height="5.40" fill="#000"/>
<rect x="702.30" y="45.60" width="1.80" height="5.40" fill="#000"/>
<rect x="678.00" y="45.60" width="1.10" height="5.40" fill="#000"/>
<rect x="687.20" y="45.60" width="1.10" height="5.40" fill="#000"/>
<rect x="696.30" y="45.60" width="1.10" height="5.40" fill="#000"/>
<rect x="673.30" y="51.00" width="33.40" height="58.30" fill="#ffff8c"/>
<rect x="675.20" y="51.00" width="1.60" height="58.30" fill="#8a8a94"/>
<rect x="680.20" y="51.00" width="1.60" height="58.30" fill="#8a8a94"/>
<rect x="684.20" y="51.00" width="1.60" height="58.30" fill="#8a8a94"/>
<rect x="689.20" y="51.00" width="1.60" height="58.30" fill="#8a8a94"/>
<rect x="693.20" y="51.00" width="1.60" height="58.30" fill="#8a8a94"/>
<rect x="698.20" y="51.00" width="1.60" height="58.30" fill="#8a8a94"/>
<rect x="702.40" y="51.00" width="1.60" height="58.30" fill="#8a8a94"/>
<rect x="678.20" y="51.00" width="0.70" height="58.30" fill="#8a8a94"/>
<rect x="687.40" y="51.00" width="0.70" height="58.30" fill="#8a8a94"/>
<rect x="696.50" y="51.00" width="0.70" height="58.30" fill="#8a8a94"/>
<path d="M673.5,113.5 L673.5,21.8 A25.6,25.6 0 0 1 706.5,21.8 L706.5,113.5" stroke="#66ff00" stroke-width="1" fill="none" />
<line x1="673.30" y1="109.50" x2="706.70" y2="109.50" stroke="#ffff00" stroke-width="1" />
<path d="M673.5,113.5 Q677,120 687.5,123.5 L693.5,123.5 Q703,120 706.5,113.5" stroke="#66ff00" stroke-width="1" fill="none" />
<line x1="687.50" y1="123.20" x2="687.50" y2="138.60" stroke="#66ff00" stroke-width="1" />
<line x1="693.50" y1="123.20" x2="693.50" y2="138.60" stroke="#66ff00" stroke-width="1" />
<path d="M673.5,184.5 L673.5,146 A22,22 0 0 1 706.5,146 L706.5,184.5 Q703,193 693.5,196.5 L688.5,196.5 Q677,193 673.5,184.5 Z" stroke="#66ff00" stroke-width="1" fill="none" />
<circle cx="689.80" cy="163.00" r="4.30" stroke="#ffff00" stroke-width="1.1" fill="none" />
<path d="M688.5,196.5 L688.5,208.5 L693.5,208.5 L693.5,196.5" stroke="#66ff00" stroke-width="1" fill="none" />
<line x1="693.30" y1="200.50" x2="700.50" y2="200.50" stroke="#66ff00" stroke-width="1" />
<line x1="693.30" y1="203.50" x2="700.50" y2="203.50" stroke="#66ff00" stroke-width="1" />
<rect x="700.50" y="198.50" width="2.00" height="8.00" stroke="#66ff00" stroke-width="1" fill="none" />
<line x1="706.70" y1="169.50" x2="761.20" y2="169.50" stroke="#66ff00" stroke-width="1" />
<line x1="706.70" y1="173.50" x2="761.20" y2="173.50" stroke="#66ff00" stroke-width="1" />
<text x="707.50" y="90.20" font-size="10" fill="#fff" font-weight="bold" font-family="&quot;Liberation Sans&quot;, sans-serif" text-anchor="start" >冷凝器</text>
<line x1="635.50" y1="75.40" x2="635.50" y2="218.20" stroke="#ffff00" stroke-width="1" />
<line x1="745.50" y1="75.40" x2="745.50" y2="217.20" stroke="#ffff00" stroke-width="1" />
<line x1="635.50" y1="75.50" x2="673.30" y2="75.50" stroke="#ffff00" stroke-width="1" />
<line x1="706.70" y1="75.50" x2="745.40" y2="75.50" stroke="#b0b000" stroke-width="1" />
<line x1="635.50" y1="154.50" x2="673.30" y2="154.50" stroke="#ffff00" stroke-width="1" />
<line x1="706.70" y1="154.50" x2="747.00" y2="154.50" stroke="#ffff00" stroke-width="1" />
<line x1="664.40" y1="154.10" x2="635.50" y2="190.80" stroke="#ffff00" stroke-width="1" />
<line x1="720.20" y1="154.10" x2="745.40" y2="196.30" stroke="#ffff00" stroke-width="1" />
<line x1="632.00" y1="218.50" x2="640.00" y2="218.50" stroke="#ffff00" stroke-width="1.4" />
<line x1="742.00" y1="217.50" x2="749.00" y2="217.50" stroke="#ffff00" stroke-width="1.4" />
<circle cx="769.80" cy="171.00" r="8.60" stroke="#66ff00" stroke-width="1.1" fill="none" />
<line x1="767.50" y1="163.00" x2="767.50" y2="179.00" stroke="#66ff00" stroke-width="1" />
<line x1="772.50" y1="162.60" x2="772.50" y2="179.40" stroke="#66ff00" stroke-width="1" />
<line x1="778.40" y1="167.50" x2="786.00" y2="167.50" stroke="#66ff00" stroke-width="1" />
<line x1="778.40" y1="172.50" x2="786.00" y2="172.50" stroke="#66ff00" stroke-width="1" />
<rect x="786.50" y="162.50" width="5.00" height="14.00" stroke="#66ff00" stroke-width="1" fill="none" />
<line x1="786.00" y1="165.50" x2="791.30" y2="165.50" stroke="#66ff00" stroke-width="1" />
<line x1="786.00" y1="172.50" x2="791.30" y2="172.50" stroke="#66ff00" stroke-width="1" />
<line x1="791.30" y1="167.50" x2="797.60" y2="167.50" stroke="#66ff00" stroke-width="1" />
<line x1="791.30" y1="172.50" x2="797.60" y2="172.50" stroke="#66ff00" stroke-width="1" />
<rect x="797.50" y="159.50" width="7.00" height="19.00" stroke="#66ff00" stroke-width="1" fill="none" />
<line x1="804.20" y1="167.50" x2="807.50" y2="167.50" stroke="#66ff00" stroke-width="1" />
<line x1="804.20" y1="172.50" x2="807.50" y2="172.50" stroke="#66ff00" stroke-width="1" />
<rect x="807.50" y="160.50" width="32.00" height="17.00" stroke="#66ff00" stroke-width="1" fill="none" />
<line x1="811.10" y1="162.50" x2="833.60" y2="162.50" stroke="#66ff00" stroke-width="1" />
<line x1="811.10" y1="165.50" x2="833.60" y2="165.50" stroke="#66ff00" stroke-width="1" />
<line x1="811.10" y1="168.50" x2="833.60" y2="168.50" stroke="#66ff00" stroke-width="1" />
<line x1="811.10" y1="171.50" x2="833.60" y2="171.50" stroke="#66ff00" stroke-width="1" />
<line x1="811.10" y1="174.50" x2="833.60" y2="174.50" stroke="#66ff00" stroke-width="1" />
<line x1="811.50" y1="160.10" x2="811.50" y2="177.20" stroke="#66ff00" stroke-width="1" />
<line x1="833.50" y1="160.10" x2="833.50" y2="177.20" stroke="#66ff00" stroke-width="1" />
<rect x="811.50" y="177.50" width="3.00" height="4.00" stroke="#66ff00" stroke-width="1" fill="none" />
<rect x="831.50" y="177.50" width="3.00" height="4.00" stroke="#66ff00" stroke-width="1" fill="none" />
<rect x="760.50" y="181.50" width="79.00" height="11.00" stroke="#66ff00" stroke-width="1" fill="none" />
<text x="794.60" y="152.90" font-size="10" fill="#fff" font-weight="bold" font-family="&quot;Liberation Sans&quot;, sans-serif" text-anchor="start" >真空泵</text>
<rect x="597.1" y="344.2" width="13.9" height="4.2" rx="2.1" fill="url(#knob)" stroke="#00ff00" stroke-width="1"/>
<rect x="602.50" y="348.50" width="4.00" height="4.00" stroke="#00ff00" stroke-width="1" fill="none" />
<rect x="586.50" y="352.50" width="36.00" height="4.00" stroke="#00ff00" stroke-width="1" fill="url(#cap)" />
<rect x="579.5" y="356.5" width="50" height="9" rx="2.5" fill="none" stroke="#00ff00" stroke-width="1"/>
<rect x="579.5" y="370.5" width="50" height="5" rx="2.5" fill="none" stroke="#00ff00" stroke-width="1"/>
<line x1="586.50" y1="365.40" x2="586.50" y2="370.50" stroke="#00ff00" stroke-width="1" />
<line x1="622.50" y1="365.40" x2="622.50" y2="370.50" stroke="#00ff00" stroke-width="1" />
<line x1="586.50" y1="375.50" x2="586.50" y2="396.00" stroke="#00ff00" stroke-width="1" />
<line x1="622.50" y1="375.50" x2="622.50" y2="396.00" stroke="#00ff00" stroke-width="1" />
<line x1="547.50" y1="530.00" x2="547.50" y2="548.50" stroke="#80e040" stroke-width="1.4" />
<line x1="561.50" y1="538.00" x2="561.50" y2="548.50" stroke="#80e040" stroke-width="1.4" />
<line x1="544.90" y1="548.50" x2="565.40" y2="548.50" stroke="#80e040" stroke-width="2.2" />
<line x1="649.50" y1="538.00" x2="649.50" y2="547.50" stroke="#80e040" stroke-width="1.4" />
<line x1="663.50" y1="530.00" x2="663.50" y2="547.50" stroke="#80e040" stroke-width="1.4" />
<line x1="646.10" y1="547.50" x2="666.90" y2="547.50" stroke="#80e040" stroke-width="2.2" />
<line x1="586.50" y1="550.00" x2="586.50" y2="565.00" stroke="#80e040" stroke-width="1.4" />
<line x1="619.50" y1="550.00" x2="619.50" y2="565.00" stroke="#80e040" stroke-width="1.4" />
<line x1="582.5" y1="566" x2="623.2" y2="566" stroke="#80e040" stroke-width="3" stroke-linecap="round"/>
<g transform="translate(0 473.0) scale(1 0.975) translate(0 -473.0)">
<circle cx="603.90" cy="473.00" r="78.10" stroke="url(#ring)" stroke-width="6.2" fill="none" />
<circle cx="603.90" cy="473.00" r="81.30" stroke="#1a1aff" stroke-width="1.1" fill="none" />
<circle cx="603.90" cy="473.00" r="71.05" stroke="#9a9a9a" stroke-width="6.9" fill="none" />
<circle cx="603.90" cy="473.00" r="71.05" stroke="url(#hatch)" stroke-width="6.9" fill="none" />
<circle cx="603.90" cy="473.00" r="74.50" stroke="#00ff00" stroke-width="1.3" fill="none" />
<path d="M585.76,400.23 A75.0,75.0 0 0 1 622.04,400.23" stroke="#ffdede" stroke-width="2.2" fill="none"/>
<circle cx="603.90" cy="473.00" r="67.60" stroke="#00ff00" stroke-width="1.4" fill="url(#disk)" />
</g>
<g transform="rotate(0 604.8 473.3)"><rect x="601.3" y="423.3" width="7" height="32" fill="url(#armG)" stroke="#3d9a4a" stroke-width="1"/><rect x="601.3" y="416.8" width="7" height="7" fill="url(#armD)" stroke="#3d9a4a" stroke-width="1"/><path d="M601.3,416.8 L604.8,406.3 L608.3,416.8 Z" fill="#9be35c" stroke="#3d9a4a" stroke-width="1"/></g>
<g transform="rotate(90 604.8 473.3)"><rect x="601.3" y="421.3" width="7" height="34" fill="url(#armG)" stroke="#3d9a4a" stroke-width="1"/><rect x="601.3" y="414.8" width="7" height="7" fill="url(#armD)" stroke="#3d9a4a" stroke-width="1"/><path d="M601.3,414.8 L604.8,404.3 L608.3,414.8 Z" fill="#9be35c" stroke="#3d9a4a" stroke-width="1"/></g>
<g transform="rotate(180 604.8 473.3)"><rect x="601.3" y="424.3" width="7" height="31" fill="url(#armG)" stroke="#3d9a4a" stroke-width="1"/><rect x="601.3" y="417.8" width="7" height="7" fill="url(#armD)" stroke="#3d9a4a" stroke-width="1"/><path d="M601.3,417.8 L604.8,407.3 L608.3,417.8 Z" fill="#9be35c" stroke="#3d9a4a" stroke-width="1"/></g>
<g transform="rotate(270 604.8 473.3)"><rect x="601.3" y="421.70000000000005" width="7" height="33.599999999999994" fill="url(#armG)" stroke="#3d9a4a" stroke-width="1"/><rect x="601.3" y="415.20000000000005" width="7" height="7" fill="url(#armD)" stroke="#3d9a4a" stroke-width="1"/><path d="M601.3,415.20000000000005 L604.8,404.70000000000005 L608.3,415.20000000000005 Z" fill="#9be35c" stroke="#3d9a4a" stroke-width="1"/></g>
<circle cx="604.80" cy="473.30" r="19.90" stroke="#3a9a6a" stroke-width="1.2" fill="#69bb2e" />
<circle cx="604.80" cy="473.30" r="5.10" stroke="none" stroke-width="0" fill="#b4b400" />
<circle cx="591.00" cy="417.70" r="4.40" stroke="#3d9a4a" stroke-width="1" fill="#8fdf55" />
<circle cx="662.20" cy="461.00" r="4.40" stroke="#3d9a4a" stroke-width="1" fill="#8fdf55" />
<circle cx="546.60" cy="483.40" r="4.40" stroke="#3d9a4a" stroke-width="1" fill="#8fdf55" />
<circle cx="605.30" cy="532.20" r="4.40" stroke="#3d9a4a" stroke-width="1" fill="#8fdf55" />
<text x="700.40" y="477.50" font-size="10" fill="#fff" font-weight="bold" font-family="&quot;Liberation Sans&quot;, sans-serif" text-anchor="start" >滚筒截面</text>
<circle cx="98.10" cy="420.80" r="7.20" stroke="none" stroke-width="0" fill="#ff0000" />
<text x="98.10" y="424.60" font-size="10" fill="#fff" font-weight="bold" font-family="&quot;Liberation Sans&quot;, sans-serif" text-anchor="middle" >1</text>
<circle cx="98.10" cy="440.00" r="7.20" stroke="none" stroke-width="0" fill="#00ee00" />
<text x="98.10" y="443.80" font-size="10" fill="#000" font-weight="bold" font-family="&quot;Liberation Sans&quot;, sans-serif" text-anchor="middle" >2</text>
<circle cx="98.10" cy="459.50" r="7.20" stroke="none" stroke-width="0" fill="#ff9900" />
<text x="98.10" y="463.30" font-size="10" fill="#333" font-weight="bold" font-family="&quot;Liberation Sans&quot;, sans-serif" text-anchor="middle" >3</text>
<circle cx="98.10" cy="478.10" r="7.20" stroke="none" stroke-width="0" fill="#0033cc" />
<text x="98.10" y="481.90" font-size="10" fill="#fff" font-weight="bold" font-family="&quot;Liberation Sans&quot;, sans-serif" text-anchor="middle" >4</text>
<text x="112.00" y="424.60" font-size="10" fill="#fff" font-weight="bold" font-family="&quot;Liberation Sans&quot;, sans-serif" text-anchor="start" >第一步：加料（手工或者真空加</text>
<text x="112.00" y="434.00" font-size="10" fill="#fff" font-weight="bold" font-family="&quot;Liberation Sans&quot;, sans-serif" text-anchor="start" >料）</text>
<text x="112.00" y="443.80" font-size="10" fill="#fff" font-weight="bold" font-family="&quot;Liberation Sans&quot;, sans-serif" text-anchor="start" >第二步：加热</text>
<text x="112.00" y="463.30" font-size="10" fill="#fff" font-weight="bold" font-family="&quot;Liberation Sans&quot;, sans-serif" text-anchor="start" >第三步：开搅拌机同时启动抽真空，干燥物料中</text>
<text x="112.00" y="481.90" font-size="10" fill="#fff" font-weight="bold" font-family="&quot;Liberation Sans&quot;, sans-serif" text-anchor="start" >第四步：物料干燥完毕，出料</text>
<rect x="90.6" y="501" width="77.2" height="24.8" fill="#00ff00"/>
<polygon points="90.6,501 167.8,501 163.8,503.6 94.6,503.6" fill="#00c400"/>
<polygon points="90.6,501 94.6,503.6 94.6,523.5 90.6,525.8" fill="#00c400"/>
<polygon points="167.8,501 167.8,525.8 163.8,523.5 163.8,503.6" fill="#006a00"/>
<polygon points="90.6,525.8 167.8,525.8 163.8,523.5 94.6,523.5" fill="#006a00"/>
<text x="127.20" y="517.00" font-size="10" fill="#000" font-weight="normal" font-family="&quot;Liberation Sans&quot;, sans-serif" text-anchor="middle" >加料[开]</text>
<rect x="175.0" y="501" width="77.2" height="24.8" fill="#00ff00"/>
<polygon points="175.0,501 252.2,501 248.2,503.6 179.0,503.6" fill="#00c400"/>
<polygon points="175.0,501 179.0,503.6 179.0,523.5 175.0,525.8" fill="#00c400"/>
<polygon points="252.2,501 252.2,525.8 248.2,523.5 248.2,503.6" fill="#006a00"/>
<polygon points="175.0,525.8 252.2,525.8 248.2,523.5 179.0,523.5" fill="#006a00"/>
<text x="211.60" y="517.00" font-size="10" fill="#000" font-weight="normal" font-family="&quot;Liberation Sans&quot;, sans-serif" text-anchor="middle" >加热[开]</text>
<rect x="259.1" y="501" width="77.2" height="24.8" fill="#00ff00"/>
<polygon points="259.1,501 336.3,501 332.3,503.6 263.1,503.6" fill="#00c400"/>
<polygon points="259.1,501 263.1,503.6 263.1,523.5 259.1,525.8" fill="#00c400"/>
<polygon points="336.3,501 336.3,525.8 332.3,523.5 332.3,503.6" fill="#006a00"/>
<polygon points="259.1,525.8 336.3,525.8 332.3,523.5 263.1,523.5" fill="#006a00"/>
<text x="295.70" y="517.00" font-size="10" fill="#000" font-weight="normal" font-family="&quot;Liberation Sans&quot;, sans-serif" text-anchor="middle" >搅拌[开]</text>
<rect x="343.2" y="501" width="77.2" height="24.8" fill="#00ff00"/>
<polygon points="343.2,501 420.4,501 416.4,503.6 347.2,503.6" fill="#00c400"/>
<polygon points="343.2,501 347.2,503.6 347.2,523.5 343.2,525.8" fill="#00c400"/>
<polygon points="420.4,501 420.4,525.8 416.4,523.5 416.4,503.6" fill="#006a00"/>
<polygon points="343.2,525.8 420.4,525.8 416.4,523.5 347.2,523.5" fill="#006a00"/>
<text x="379.80" y="517.00" font-size="10" fill="#000" font-weight="normal" font-family="&quot;Liberation Sans&quot;, sans-serif" text-anchor="middle" >出料[开]</text>
<rect x="90.6" y="532.3" width="77.2" height="24.6" fill="#ff0000"/>
<polygon points="90.6,532.3 167.8,532.3 163.8,534.9 94.6,534.9" fill="#ff6a00"/>
<polygon points="90.6,532.3 94.6,534.9 94.6,554.6 90.6,556.9" fill="#ff6a00"/>
<polygon points="167.8,532.3 167.8,556.9 163.8,554.6 163.8,534.9" fill="#780000"/>
<polygon points="90.6,556.9 167.8,556.9 163.8,554.6 94.6,554.6" fill="#780000"/>
<text x="127.20" y="548.20" font-size="10" fill="#000" font-weight="normal" font-family="&quot;Liberation Sans&quot;, sans-serif" text-anchor="middle" >加料[关]</text>
<rect x="175.0" y="532.3" width="77.2" height="24.6" fill="#ff0000"/>
<polygon points="175.0,532.3 252.2,532.3 248.2,534.9 179.0,534.9" fill="#ff6a00"/>
<polygon points="175.0,532.3 179.0,534.9 179.0,554.6 175.0,556.9" fill="#ff6a00"/>
<polygon points="252.2,532.3 252.2,556.9 248.2,554.6 248.2,534.9" fill="#780000"/>
<polygon points="175.0,556.9 252.2,556.9 248.2,554.6 179.0,554.6" fill="#780000"/>
<text x="211.60" y="548.20" font-size="10" fill="#000" font-weight="normal" font-family="&quot;Liberation Sans&quot;, sans-serif" text-anchor="middle" >加热[关]</text>
<rect x="259.1" y="532.3" width="77.2" height="24.6" fill="#ff0000"/>
<polygon points="259.1,532.3 336.3,532.3 332.3,534.9 263.1,534.9" fill="#ff6a00"/>
<polygon points="259.1,532.3 263.1,534.9 263.1,554.6 259.1,556.9" fill="#ff6a00"/>
<polygon points="336.3,532.3 336.3,556.9 332.3,554.6 332.3,534.9" fill="#780000"/>
<polygon points="259.1,556.9 336.3,556.9 332.3,554.6 263.1,554.6" fill="#780000"/>
<text x="295.70" y="548.20" font-size="10" fill="#000" font-weight="normal" font-family="&quot;Liberation Sans&quot;, sans-serif" text-anchor="middle" >搅拌[关]</text>
<rect x="343.2" y="532.3" width="77.2" height="24.6" fill="#ff0000"/>
<polygon points="343.2,532.3 420.4,532.3 416.4,534.9 347.2,534.9" fill="#ff6a00"/>
<polygon points="343.2,532.3 347.2,534.9 347.2,554.6 343.2,556.9" fill="#ff6a00"/>
<polygon points="420.4,532.3 420.4,556.9 416.4,554.6 416.4,534.9" fill="#780000"/>
<polygon points="343.2,556.9 420.4,556.9 416.4,554.6 347.2,554.6" fill="#780000"/>
<text x="379.80" y="548.20" font-size="10" fill="#000" font-weight="normal" font-family="&quot;Liberation Sans&quot;, sans-serif" text-anchor="middle" >出料[关]</text>
<rect x="431.9" y="532.3" width="76.8" height="24.6" fill="#00ff00"/>
<polygon points="431.9,532.3 508.7,532.3 504.7,534.9 435.9,534.9" fill="#00c400"/>
<polygon points="431.9,532.3 435.9,534.9 435.9,554.6 431.9,556.9" fill="#00c400"/>
<polygon points="508.7,532.3 508.7,556.9 504.7,554.6 504.7,534.9" fill="#006a00"/>
<polygon points="431.9,556.9 508.7,556.9 504.7,554.6 435.9,554.6" fill="#006a00"/>
<text x="468.30" y="548.20" font-size="10" fill="#000" font-weight="normal" font-family="&quot;Liberation Sans&quot;, sans-serif" text-anchor="middle" >退 出</text>
</svg>
</body></html>
